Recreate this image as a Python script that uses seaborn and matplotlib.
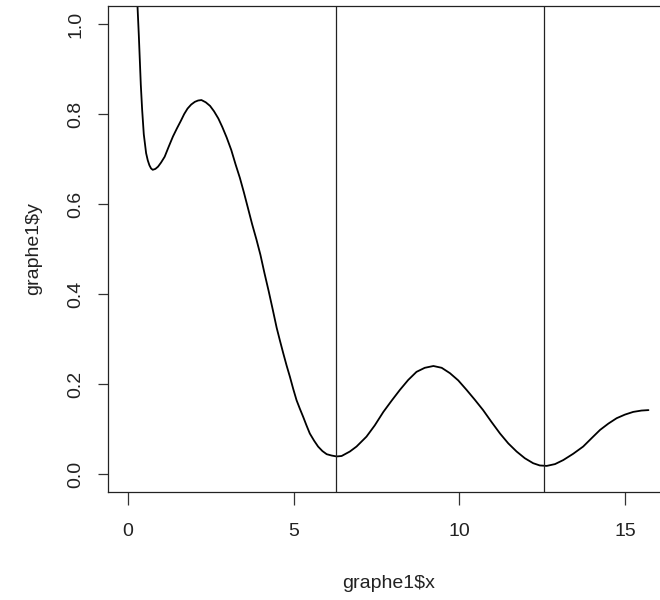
import numpy as np
import pandas as pd
import matplotlib
matplotlib.use("Agg")
import matplotlib.pyplot as plt
import seaborn as sns

# graphe1: sampled curve
graphe1_x = [0.22, 0.29, 0.33, 0.36, 0.39, 0.43, 0.48, 0.55, 0.60, 0.65,
             0.70, 0.75, 0.83, 0.91, 1.00, 1.11, 1.23, 1.36, 1.48, 1.60,
             1.70, 1.80, 1.91, 2.02, 2.12, 2.22, 2.35, 2.48, 2.60, 2.73,
             2.85, 2.98, 3.12, 3.25, 3.38, 3.50, 3.62, 3.75, 3.88, 4.00,
             4.12, 4.25, 4.37, 4.49, 4.59, 4.69, 4.79, 4.89, 4.99, 5.09,
             5.19, 5.29, 5.39, 5.49, 5.62, 5.74, 5.87, 6.00, 6.15, 6.30,
             6.45, 6.70, 6.90, 7.20, 7.45, 7.71, 7.96, 8.21, 8.46, 8.71,
             8.96, 9.22, 9.47, 9.72, 9.97, 10.22, 10.47, 10.72, 10.97, 11.23,
             11.48, 11.73, 11.98, 12.23, 12.43, 12.64, 12.89, 13.14, 13.44, 13.74,
             14.00, 14.25, 14.50, 14.75, 15.00, 15.25, 15.50, 15.71]
graphe1_y = [1.20, 1.04, 0.975, 0.92, 0.865, 0.81, 0.755, 0.713, 0.697, 0.686,
             0.679, 0.676, 0.678, 0.683, 0.692, 0.705, 0.727, 0.750, 0.768, 0.785,
             0.800, 0.812, 0.821, 0.827, 0.830, 0.831, 0.826, 0.818, 0.806, 0.790,
             0.771, 0.748, 0.720, 0.688, 0.658, 0.626, 0.592, 0.555, 0.521, 0.487,
             0.447, 0.406, 0.366, 0.325, 0.296, 0.268, 0.241, 0.216, 0.189, 0.164,
             0.145, 0.127, 0.108, 0.090, 0.074, 0.061, 0.051, 0.044, 0.041, 0.039,
             0.040, 0.050, 0.061, 0.083, 0.108, 0.138, 0.163, 0.187, 0.209, 0.227,
             0.236, 0.240, 0.236, 0.224, 0.208, 0.187, 0.165, 0.142, 0.116, 0.090,
             0.068, 0.050, 0.035, 0.024, 0.019, 0.018, 0.022, 0.031, 0.045, 0.061,
             0.080, 0.098, 0.112, 0.124, 0.132, 0.138, 0.141, 0.142]

# reference verticals at 2*pi and 4*pi
vlines_x = [2 * np.pi, 4 * np.pi]

x_ticks = [0, 5, 10, 15]
y_ticks = [0.0, 0.2, 0.4, 0.6, 0.8, 1.0]
y_tick_labels = ["0.0", "0.2", "0.4", "0.6", "0.8", "1.0"]

sns.set_style("white")
plt.rcParams["font.family"] = ["Liberation Sans", "DejaVu Sans"]

df = pd.DataFrame({"x": graphe1_x, "y": graphe1_y})

W, H = 660, 600
fig = plt.figure(figsize=(W / 100, H / 100), dpi=100)
left, right, top, bottom = 108, 669, 6, 492
ax = fig.add_axes([left / W, 1 - bottom / H, (right - left) / W, (bottom - top) / H])

sns.lineplot(data=df, x="x", y="y", ax=ax, color="black", lw=1.3,
             sort=False, estimator=None)
for xv in vlines_x:
    ax.axvline(xv, color="#222222", lw=0.9)

ax.set_xlim(-0.6, 16.33)
ax.set_ylim(-0.04, 1.04)

ax.set_xticks(x_ticks)
ax.set_xticklabels([str(t) for t in x_ticks])
ax.set_yticks(y_ticks)
ax.set_yticklabels(y_tick_labels, rotation=90, va="center")

for s in ax.spines.values():
    s.set_color("#222222")
    s.set_linewidth(0.9)

ax.tick_params(axis="both", direction="out", width=0.9,
               color="#333333", labelsize=14, labelcolor="#222222",
               bottom=True, left=True)
ax.tick_params(axis="x", length=9, pad=13.5)
ax.tick_params(axis="y", length=7, pad=10)

ax.set_xlabel("graphe1$x", fontsize=14, color="#222222", labelpad=25)
ax.set_ylabel("graphe1$y", fontsize=14, color="#222222", labelpad=18)

fig.savefig("out.png", dpi=100)
